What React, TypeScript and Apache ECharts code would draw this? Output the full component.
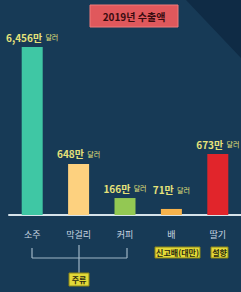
import React, { useEffect, useRef } from "react";
import * as echarts from "echarts";

const categories = ["소주", "막걸리", "커피", "배", "딸기"];
const exportValues = ["6,456", "648", "166", "71", "673"];
// bar heights as drawn in the infographic (relative units, soju = 100)
const drawnLevels = [100, 30.4, 10.1, 3.6, 36.3];
const barColors = ["#3fc7a4", "#fdd17f", "#93c853", "#f7b34c", "#e1252b"];
const labelGaps = [4, 4, 4, 13, 4];
const title = "2019년 수출액";
const groupLabel = "주류";
const subLabels = ["", "", "", "신고배(대만)", "설향"];

const FONT = '"Noto Sans CJK KR", "Noto Sans", sans-serif';

export default function App() {
  const ref = useRef<HTMLDivElement>(null);
  useEffect(() => {
    document.body.style.margin = "0";
    const chart = echarts.init(ref.current!, null, { renderer: "svg" });
    const subGraphics: any[] = [];
    const subBoxes: Record<string, [number, number]> = { "신고배(대만)": [155, 45], "설향": [211, 17] };
    subLabels.forEach((s) => {
      if (!s) return;
      const [x, w] = subBoxes[s];
      subGraphics.push({
        type: "rect",
        shape: { x, y: 247, width: w, height: 11 },
        style: { fill: "#e2d938", stroke: "#8a8418", lineWidth: 1 },
      });
      subGraphics.push({
        type: "text",
        x: x + w / 2,
        y: 252.5,
        style: { text: s, fill: "#2a2a10", font: `bold 8px ${FONT}`, textAlign: "center", textVerticalAlign: "middle" },
      });
    });
    chart.setOption({
      animation: false,
      backgroundColor: "#173a56",
      grid: { left: 9, width: 235, top: 47, bottom: 77 },
      xAxis: {
        type: "category",
        data: categories,
        axisLine: { show: true, lineStyle: { color: "#d6e3ea", width: 2 } },
        axisTick: { show: false },
        axisLabel: { color: "#c9d6e2", fontSize: 9, fontFamily: FONT, margin: 15 },
      },
      yAxis: { type: "value", min: 0, max: 100, show: false, splitLine: { show: false } },
      series: [
        {
          type: "bar",
          barWidth: 21,
          data: drawnLevels.map((v, i) => ({
            value: v,
            itemStyle: { color: barColors[i] },
            label: {
              show: true,
              position: "top",
              distance: labelGaps[i],
              formatter: () => `{a|${exportValues[i]}만} {b|달러}`,
              rich: {
                a: { color: "#e6e27a", fontSize: 10, fontWeight: "bold", fontFamily: FONT },
                b: { color: "#e6e27a", fontSize: 7, fontFamily: FONT },
              },
            },
          })),
        },
      ],
      graphic: [
        {
          type: "polygon",
          z: -1,
          shape: { points: [[186, 0], [241, 0], [241, 58]] },
          style: { fill: "#0f2b45" },
        },
        {
          type: "rect",
          shape: { x: 90, y: 5, width: 88, height: 22 },
          style: { fill: "#e0585c", stroke: "#f07a7a", lineWidth: 1 },
        },
        {
          type: "text",
          x: 134,
          y: 16,
          style: { text: title, fill: "#3a0c10", font: `bold 10px ${FONT}`, textAlign: "center", textVerticalAlign: "middle" },
        },
        // bracket
        { type: "line", shape: { x1: 32, y1: 248, x2: 32, y2: 258 }, style: { stroke: "#9fb6c6", lineWidth: 1.2 } },
        { type: "line", shape: { x1: 127, y1: 248, x2: 127, y2: 258 }, style: { stroke: "#9fb6c6", lineWidth: 1.2 } },
        { type: "line", shape: { x1: 32, y1: 258, x2: 127, y2: 258 }, style: { stroke: "#9fb6c6", lineWidth: 1.2 } },
        { type: "line", shape: { x1: 79, y1: 245, x2: 79, y2: 273 }, style: { stroke: "#9fb6c6", lineWidth: 1.2 } },
        {
          type: "rect",
          shape: { x: 69, y: 273, width: 20, height: 13 },
          style: { fill: "#e2d938", stroke: "#8a8418", lineWidth: 1 },
        },
        {
          type: "text",
          x: 79,
          y: 279.5,
          style: { text: groupLabel, fill: "#2a2a10", font: `bold 8px ${FONT}`, textAlign: "center", textVerticalAlign: "middle" },
        },
        ...subGraphics,
      ],
    });
    return () => chart.dispose();
  }, []);
  return <div ref={ref} style={{ width: 241, height: 292 }} />;
}
